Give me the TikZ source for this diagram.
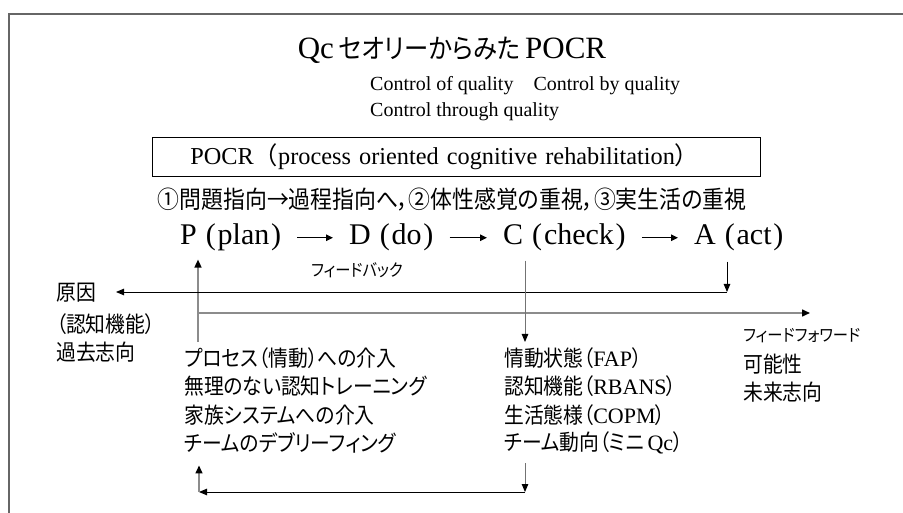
\documentclass[tikz,border=0pt]{standalone}
\usepackage{fontspec}
\setmainfont{Liberation Serif}
\newfontfamily\jp[FakeStretch=0.9,RawFeature=+palt]{Noto Sans CJK JP}
\newfontfamily\jpw{Noto Sans CJK JP}
\newcommand\plp{\hspace{.3em}(\hspace{.06em}}
\newcommand\prp{\hspace{.06em})}
\usetikzlibrary{arrows.meta, positioning}
\begin{document}
\begin{tikzpicture}[x=1pt, y=-1pt,
    every node/.style={inner sep=1pt},
    heading/.style={font=\fontsize{31}{36}\selectfont},
    eng/.style={anchor=west, font=\fontsize{20}{24}\selectfont},
    pdca/.style={anchor=base west, font=\fontsize{30}{34}\selectfont},
    jtext/.style={anchor=west, font=\fontsize{22}{26}\selectfont\jp},
    jnote/.style={font=\fontsize{17}{20}\selectfont\jp},
    fbline/.style={draw=black, line width=0.9pt, -{Triangle[length=8pt,width=6.5pt]}},
    ffline/.style={draw=black!45, line width=1.5pt, -{Triangle[length=8pt,width=7pt,color=black]}},
    probe/.style={draw=black!55, line width=1pt, -{Triangle[length=8pt,width=6.5pt,color=black]}},
    flow/.style={line width=1.4pt, -{Triangle[length=7pt,width=6.5pt]}, shorten <=15pt, shorten >=15pt}
]
    \useasboundingbox (0,0) rectangle (903,513);
    % frame
    \draw[line width=2pt, black!60] (8.5,513) -- (8.5,14) -- (903,14);

    \node[heading] (title) at (452,50) {Qc\,{\fontsize{27}{30}\selectfont\jp セオリーからみた}\,POCR};
    \node[eng] (ctrl1) at (369,86) {Control of quality\hspace{1em}Control by quality};
    \node[eng] (ctrl2) at (369,112) {Control through quality};
    \node[draw, line width=0.8pt, anchor=west, text width=532pt, inner xsep=38pt, minimum height=39pt, font=\fontsize{24.3}{29}\selectfont] (pocr) at (152,156.5) {POCR{\jpw （}process oriented cognitive rehabilitation{\jpw ）}};
    \node[jtext, anchor=center, inner sep=0pt, font=\fontsize{24.3}{28}\selectfont\jp] (aims) at (452,200) {①問題指向→過程指向へ，②体性感覚の重視，③実生活の重視};

    % cycle
    \node[pdca] (p) at (179,245) {P\plp plan\prp};
    \node[pdca] (d) at (348,245) {D\plp do\prp};
    \node[pdca] (c) at (502,245) {C\plp check\prp};
    \node[pdca] (a) at (693,245) {A\plp act\prp};
    \draw[flow] (p) -- (d);
    \draw[flow] (d) -- (c);
    \draw[flow] (c) -- (a);

    \node[jnote] (fbtext) at (357,270) {フィードバック};

    \node[jtext] (cause) at (55,293) {原因};
    \node[jtext] (cog) at (55,324) {（認知機能）};
    \node[jtext] (past) at (55,352) {過去志向};

    \node[jnote, anchor=west] (fftext) at (742,336) {フィードフォワード};
    \node[jtext] (poss) at (742,364) {可能性};
    \node[jtext] (future) at (742,392) {未来志向};

    % plan side
    \node[jtext] (pl1) at (183,358) {プロセス（情動）への介入};
    \node[jtext] (pl2) at (183,386.5) {無理のない認知トレーニング};
    \node[jtext] (pl3) at (183,415) {家族システムへの介入};
    \node[jtext] (pl4) at (183,443) {チームのデブリーフィング};

    % check side
    \node[jtext] (ck1) at (503,358) {情動状態（{\rmfamily FAP}）};
    \node[jtext] (ck2) at (503,386.5) {認知機能（{\rmfamily RBANS}）};
    \node[jtext] (ck3) at (503,415) {生活態様（{\rmfamily COPM}）};
    \node[jtext] (ck4) at (503,443) {チーム動向（ミニ\,{\rmfamily Qc}）};

    \coordinate (pin) at (198,342);
    \coordinate (ffend) at (810,313);
    \coordinate (fbturn) at (727,292);
    \coordinate (cout) at (525,342);
    \coordinate (loopl) at (199,492);
    \coordinate (loopr) at (525,492);

    \draw[ffline, shorten >=7pt] (pin) -- (pin |- p.south);
    \draw[ffline] (pin |- ffend) -- (ffend);
    \draw[fbline, shorten <=9pt] (a.south -| fbturn) -- (fbturn);
    \draw[fbline, shorten >=19pt] (fbturn) -- (fbturn -| cause.east);
    \draw[probe, shorten <=8pt] (c.south -| cout) -- (cout);
    \draw[probe, shorten <=8pt] (ck4.south -| loopr) -- (loopr);
    \draw[fbline] (loopr) -- (loopl);
    \draw[ffline, shorten >=11pt] (loopl) -- (loopl |- pl4.south);
\end{tikzpicture}
\end{document}
